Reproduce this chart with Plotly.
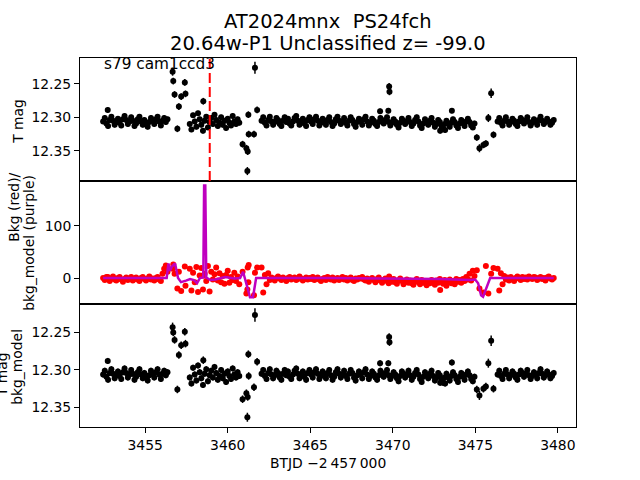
import plotly.graph_objects as go
from plotly.subplots import make_subplots

# quiet cadences (BTJD - 2457000), four orbit segments
band_btjd = [
    3452.45, 3452.55, 3452.65, 3452.75, 3452.85, 3452.95, 3453.05, 3453.15, 3453.25, 3453.35,
    3453.45, 3453.55, 3453.65, 3453.75, 3453.85, 3453.95, 3454.05, 3454.15, 3454.25, 3454.35,
    3454.45, 3454.55, 3454.65, 3454.75, 3454.85, 3454.95, 3455.05, 3455.15, 3455.25, 3455.35,
    3455.45, 3455.55, 3455.65, 3455.75, 3455.85, 3455.95, 3456.05, 3456.15, 3456.25, 3456.35,
    3457.70, 3457.80, 3457.90, 3458.00, 3458.10, 3458.20, 3458.30, 3458.40, 3458.50, 3458.60,
    3458.70, 3458.80, 3458.90, 3459.00, 3459.10, 3459.20, 3459.30, 3459.40, 3459.50, 3459.60,
    3459.70, 3459.80, 3459.90, 3460.00, 3460.10, 3460.20, 3460.30, 3460.40, 3460.50, 3460.60,
    3460.70,
    3462.05, 3462.15, 3462.25, 3462.35, 3462.45, 3462.55, 3462.65, 3462.75, 3462.85, 3462.95,
    3463.05, 3463.15, 3463.25, 3463.35, 3463.45, 3463.55, 3463.65, 3463.75, 3463.85, 3463.95,
    3464.05, 3464.15, 3464.25, 3464.35, 3464.45, 3464.55, 3464.65, 3464.75, 3464.85, 3464.95,
    3465.05, 3465.15, 3465.25, 3465.35, 3465.45, 3465.55, 3465.65, 3465.75, 3465.85, 3465.95,
    3466.05, 3466.15, 3466.25, 3466.35, 3466.45, 3466.55, 3466.65, 3466.75, 3466.85, 3466.95,
    3467.05, 3467.15, 3467.25, 3467.35, 3467.45, 3467.55, 3467.65, 3467.75, 3467.85, 3467.95,
    3468.05, 3468.15, 3468.25, 3468.35, 3468.45, 3468.55, 3468.65, 3468.75, 3468.85, 3468.95,
    3469.05, 3469.15, 3469.25, 3469.35, 3469.45, 3469.55, 3469.65, 3469.75, 3469.85, 3469.95,
    3470.05, 3470.15, 3470.25, 3470.35, 3470.45, 3470.55, 3470.65, 3470.75, 3470.85, 3470.95,
    3471.05, 3471.15, 3471.25, 3471.35, 3471.45, 3471.55, 3471.65, 3471.75, 3471.85, 3471.95,
    3472.05, 3472.15, 3472.25, 3472.35, 3472.45, 3472.55, 3472.65, 3472.75, 3472.85, 3472.95,
    3473.05, 3473.15, 3473.25, 3473.35, 3473.45, 3473.55, 3473.65, 3473.75, 3473.85, 3473.95,
    3474.05, 3474.15, 3474.25, 3474.35, 3474.45, 3474.55, 3474.65, 3474.75, 3474.85, 3474.95,
    3476.35, 3476.45, 3476.55, 3476.65, 3476.75, 3476.85, 3476.95,
    3477.05, 3477.15, 3477.25, 3477.35, 3477.45, 3477.55, 3477.65, 3477.75, 3477.85, 3477.95,
    3478.05, 3478.15, 3478.25, 3478.35, 3478.45, 3478.55, 3478.65, 3478.75, 3478.85, 3478.95,
    3479.05, 3479.15, 3479.25, 3479.35, 3479.45, 3479.55, 3479.65, 3479.75,
]
band_mag = [
    12.306, 12.301, 12.309, 12.313, 12.304, 12.299, 12.305, 12.311, 12.307, 12.302,
    12.308, 12.312, 12.303, 12.298, 12.304, 12.310, 12.306, 12.300, 12.305, 12.313,
    12.309, 12.303, 12.299, 12.306, 12.311, 12.304, 12.308, 12.314, 12.307, 12.301,
    12.305, 12.310, 12.303, 12.299, 12.306, 12.312, 12.305, 12.301, 12.307, 12.303,
    12.310, 12.318, 12.297, 12.306, 12.314, 12.294, 12.303, 12.311, 12.320, 12.305,
    12.299, 12.315, 12.307, 12.301, 12.310, 12.296, 12.304, 12.313, 12.308, 12.300,
    12.311, 12.305, 12.316, 12.302, 12.308, 12.312, 12.298, 12.306, 12.310, 12.303,
    12.308,
    12.305, 12.300, 12.308, 12.312, 12.304, 12.299, 12.306, 12.311, 12.307, 12.301,
    12.304, 12.310, 12.313, 12.305, 12.300, 12.307, 12.302, 12.309, 12.312, 12.306,
    12.301, 12.298, 12.305, 12.311, 12.307, 12.302, 12.309, 12.313, 12.304, 12.300,
    12.306, 12.310, 12.303, 12.299, 12.305, 12.312, 12.308, 12.302, 12.306, 12.311,
    12.304, 12.300, 12.307, 12.313, 12.309, 12.303, 12.299, 12.305, 12.310, 12.306,
    12.301, 12.308, 12.312, 12.305, 12.300, 12.304, 12.310, 12.314, 12.307, 12.302,
    12.306, 12.311, 12.303, 12.299, 12.306, 12.312, 12.308, 12.302, 12.305, 12.310,
    12.313, 12.307, 12.301, 12.304, 12.309, 12.305, 12.300, 12.307, 12.312, 12.308,
    12.303, 12.306, 12.311, 12.315, 12.308, 12.302, 12.305, 12.310, 12.306, 12.301,
    12.307, 12.313, 12.309, 12.304, 12.300, 12.306, 12.312, 12.316, 12.309, 12.303,
    12.307, 12.311, 12.305, 12.301, 12.308, 12.314, 12.310, 12.304, 12.307, 12.313,
    12.317, 12.310, 12.305, 12.309, 12.314, 12.308, 12.303, 12.307, 12.312, 12.316,
    12.309, 12.304, 12.308, 12.313, 12.306, 12.302, 12.307, 12.312, 12.315, 12.309,
    12.306, 12.301, 12.308, 12.312, 12.305, 12.300, 12.306,
    12.311, 12.307, 12.302, 12.305, 12.310, 12.313, 12.306, 12.301, 12.304, 12.309,
    12.305, 12.300, 12.307, 12.312, 12.308, 12.303, 12.306, 12.311, 12.304, 12.299,
    12.305, 12.310, 12.307, 12.302, 12.306, 12.311, 12.308, 12.304,
]
band_bkg = [
    0, -4, 2, -2, -6, -1, 3, -3, -5, 0,
    2, -3, -7, -2, 1, -4, -1, 2, -5, -2,
    1, -3, -6, 0, 2, -2, -5, -1, 3, -3,
    -1, -5, 0, 2, -3, -6, 8, 18, 24, 12,
    18, -24, 10, -8, 21, -27, 5, 19, -22, 8,
    -6, 23, -26, 12, -3, 7, 20, -5, 9, -8,
    4, -11, 6, 14, -9, 2, -4, 10, -6, 3,
    -12,
    20, -28, 6, -12, 9, -4, 1, -2, -5, 0,
    3, -1, -4, 1, -2, -6, 0, 2, -3, -1,
    1, -4, -2, 3, -1, -5, -2, 1, -3, 0,
    -2, 2, -4, -1, 1, -3, -6, -2, 0, -4,
    2, -1, -3, 1, -5, -2, 0, -4, -1, 2,
    -3, 0, -5, -2, 1, -4, -6, -1, -3, 0,
    -1, 2, -3, -5, -1, -7, -3, 0, -4, -8,
    -2, 1, -5, -9, -4, -1, -6, -10, -3, -7,
    -2, -8, -11, -5, -1, -6, -12, -7, -3, -9,
    -5, -10, -13, -6, -2, -8, -12, -4, -9, -6,
    -14, -6, -10, -4, -8, -13, -5, -9, -2, -7,
    -11, -4, -15, -8, -3, -10, -6, -12, -2, -7,
    -4, -9, -2, -6, 2, -3, 8, -5, 14, 4,
    18, -24, 9, -12, 4, -3, 1,
    -5, 2, -2, -6, 0, 3, -1, -4, 2, -2,
    1, -3, 3, 0, -2, 2, 1, -4, -1, 2,
    -2, 0, -5, 1, 3, -1, -3, 0,
]
band_err = 0.004

# outlying cadences
spike_btjd = [3452.73, 3456.66, 3456.70, 3456.78, 3456.95, 3457.04, 3457.18, 3457.40, 3457.44,
              3458.52, 3460.90, 3461.13, 3461.19, 3461.21, 3461.25, 3461.27, 3461.59, 3461.65,
              3461.78, 3469.23, 3469.73, 3469.78, 3469.80, 3472.87, 3473.17, 3473.58, 3475.09,
              3475.25, 3475.49, 3475.64, 3475.79, 3475.96, 3476.10]
spike_mag = [12.289, 12.232, 12.246, 12.266, 12.317, 12.284, 12.269, 12.248, 12.265,
             12.276, 12.340, 12.346, 12.380, 12.351, 12.296, 12.325, 12.325, 12.226,
             12.289, 12.291, 12.290, 12.254, 12.262, 12.320, 12.319, 12.290, 12.330,
             12.346, 12.341, 12.339, 12.301, 12.264, 12.326]
spike_mag_corr = [12.288, 12.243, 12.250, 12.260, 12.326, 12.280, 12.267, 12.249, 12.265,
                  12.287, 12.339, 12.331, 12.363, 12.336, 12.279, 12.308, 12.323, 12.227,
                  12.289, 12.291, 12.291, 12.256, 12.263, 12.317, 12.318, 12.290, 12.326,
                  12.334, 12.325, 12.322, 12.291, 12.261, 12.325]
spike_err = [0.004, 0.006, 0.005, 0.005, 0.005, 0.005, 0.005, 0.005, 0.005,
             0.005, 0.005, 0.005, 0.006, 0.005, 0.005, 0.005, 0.005, 0.009,
             0.005, 0.004, 0.004, 0.005, 0.005, 0.004, 0.004, 0.004, 0.005,
             0.006, 0.005, 0.005, 0.006, 0.007, 0.005]
spike_bkg = [2, 18, 26, 8, -20, 12, -25, 22, -15,
             5, 12, -30, -22, 20, -8, 25, -33, 10,
             20, -4, -2, 3, 0, -23, -10, -8, 15,
             -20, -28, 23, -30, 8, 19]

# background model
model_btjd = [3452.45, 3456.30, 3456.41, 3456.50, 3456.62, 3456.81, 3456.99, 3457.17, 3457.47,
              3457.72, 3457.95, 3458.14, 3458.32, 3458.52, 3458.57, 3458.64, 3458.70, 3458.95,
              3459.25, 3459.84, 3460.40, 3460.75, 3460.93, 3461.11, 3461.35, 3461.53, 3461.72,
              3466.00, 3472.87, 3474.69, 3474.99, 3475.17, 3475.35, 3475.47, 3475.65, 3475.90,
              3479.75]
model_bkg = [0, 0, 28, 14, 22, 28, 0, -8, -5,
             -2, -4, -10, 0, 1, 178, 178, 1, -4,
             -3, 2, -1, 0, 12, -10, -37, -37, 0,
             0, -2, -4, -3, -10, -33, -36, -20, 0,
             0]

disc_btjd = 3458.91
x_ticks = [3455, 3460, 3465, 3470, 3475, 3480]
mag_ticks = [12.25, 12.30, 12.35]
bkg_ticks = [0, 100]

fig = make_subplots(rows=3, cols=1, shared_xaxes=True, vertical_spacing=0)

for row, corr in ((1, spike_mag), (3, spike_mag_corr)):
    fig.add_trace(go.Scatter(x=band_btjd, y=band_mag, mode="markers",
                             marker=dict(color="black", size=6),
                             error_y=dict(type="constant", value=band_err, thickness=1.5,
                                          width=0, color="black")), row=row, col=1)
    fig.add_trace(go.Scatter(x=spike_btjd, y=corr, mode="markers",
                             marker=dict(color="black", size=6),
                             error_y=dict(type="data", array=spike_err, thickness=1.5,
                                          width=0, color="black")), row=row, col=1)

fig.add_trace(go.Scatter(x=band_btjd + spike_btjd, y=band_bkg + spike_bkg, mode="markers",
                         marker=dict(color="#ff0000", size=6)), row=2, col=1)
fig.add_trace(go.Scatter(x=model_btjd, y=model_bkg, mode="lines",
                         line=dict(color="#bf00bf", width=2.5)), row=2, col=1)

fig.add_shape(type="line", x0=disc_btjd, x1=disc_btjd, y0=0, y1=1, xref="x", yref="y domain",
              line=dict(color="red", width=2, dash="10px,4px"))

axis_style = dict(showline=True, linecolor="black", linewidth=1, mirror=True, showgrid=False,
                  zeroline=False, ticks="outside", ticklen=5, tickwidth=1, tickcolor="black")
fig.update_xaxes(**axis_style, range=[3451.05, 3481.1])
fig.update_xaxes(ticks="", showticklabels=False, row=1, col=1)
fig.update_xaxes(ticks="", showticklabels=False, row=2, col=1)
fig.update_xaxes(tickvals=x_ticks, showticklabels=True, row=3, col=1)
fig.update_yaxes(**axis_style)
fig.update_yaxes(range=[12.3948, 12.2116], tickvals=mag_ticks, tickformat=".2f", row=1, col=1)
fig.update_yaxes(range=[-50, 186.5], tickvals=bkg_ticks, row=2, col=1)
fig.update_yaxes(range=[12.376, 12.2122], tickvals=mag_ticks, tickformat=".2f", row=3, col=1)

def label(text, x, y, size=13.9, angle=0, xanchor="center"):
    fig.add_annotation(text=text, x=x, y=y, xref="paper", yref="paper", showarrow=False,
                       textangle=angle, xanchor=xanchor, yanchor="middle",
                       font=dict(size=size, color="black"))

label("AT2024mnx  PS24fch", 0.5, 1.100, size=19.5)
label("20.64w-P1 Unclassified z= -99.0", 0.5, 1.040, size=19.5)
label("s79 cam1ccd3", 0.045, 0.984, size=15.3, xanchor="left")
label("T mag", -0.125, 0.827, angle=-90)
label("Bkg (red)/", -0.133, 0.594, angle=-90)
label("bkg_model (purple)", -0.103, 0.499, angle=-90)
label("T mag", -0.157, 0.141, angle=-90)
label("bkg_model", -0.127, 0.163, angle=-90)
label("BTJD \u22122\u2009457\u2009000", 0.5, -0.098)

fig.update_layout(width=640, height=480, margin=dict(l=80, r=64, t=58, b=53),
                  paper_bgcolor="white", plot_bgcolor="white", showlegend=False,
                  font=dict(family="DejaVu Sans", size=13.9, color="black"))

# drop the default 8 px page margin so the canvas sits at the window corner
fig.write_html("out.html", config={"displayModeBar": False},
               post_script="document.body.style.margin = '0';")
